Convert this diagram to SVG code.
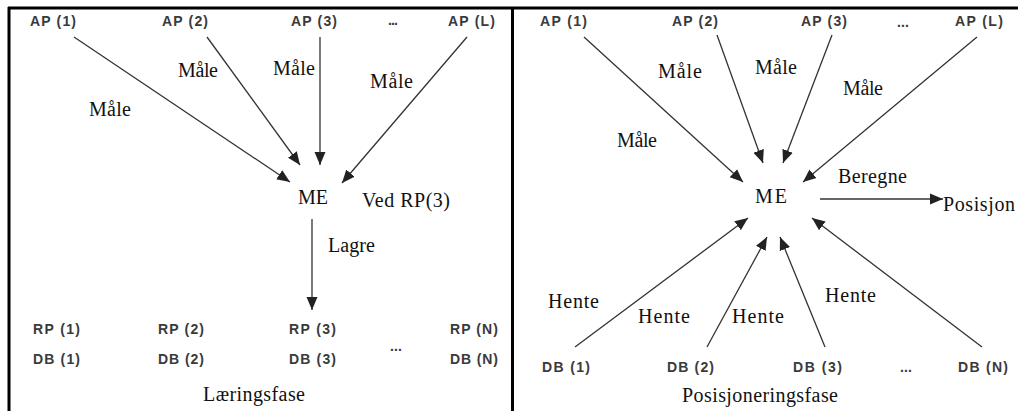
<svg xmlns="http://www.w3.org/2000/svg" width="1018" height="411" viewBox="0 0 1018 411">
<defs>
<marker id="ah" markerUnits="userSpaceOnUse" markerWidth="14" markerHeight="12" refX="13" refY="6" orient="auto">
<path d="M0,0.5 L13,6 L0,11.5 z" fill="#222"/>
</marker>
<style>
.f{stroke:#000;stroke-width:3;fill:none}
.c{stroke:#333;stroke-width:1.3;fill:none;marker-end:url(#ah)}
.s{font-family:"Liberation Sans",Arial,sans-serif;font-size:14px;fill:#3a3a3a;font-weight:bold}
.r{font-family:"Liberation Serif","Times New Roman",serif;font-size:20px;fill:#111}
</style>
</defs>
<rect width="1018" height="411" fill="#fff"/>
<g id="frame">
<line class="f" x1="8" y1="8" x2="1018" y2="8"/>
<line class="f" x1="9" y1="7" x2="9" y2="411"/>
<line class="f" x1="512.5" y1="7" x2="512.5" y2="411"/>
</g>
<g id="connectors">
<line class="c" x1="74" y1="37" x2="290" y2="182"/>
<line class="c" x1="207" y1="37" x2="300" y2="165"/>
<line class="c" x1="320" y1="37" x2="320" y2="165"/>
<line class="c" x1="467" y1="37" x2="342" y2="183"/>
<line class="c" x1="312" y1="219" x2="312" y2="310"/>
<line class="c" x1="584" y1="37" x2="743" y2="182"/>
<line class="c" x1="717" y1="35" x2="763" y2="163"/>
<line class="c" x1="832" y1="35" x2="783" y2="163"/>
<line class="c" x1="977" y1="37" x2="803" y2="182"/>
<line class="c" x1="820" y1="199" x2="943" y2="199"/>
<line class="c" x1="575" y1="347" x2="748" y2="218"/>
<line class="c" x1="707" y1="347" x2="767" y2="237"/>
<line class="c" x1="825" y1="347" x2="780" y2="237"/>
<line class="c" x1="982" y1="347" x2="812" y2="218"/>
</g>
<g id="labels-left">
<text class="r" x="89" y="116" textLength="42">Måle</text>
<text class="r" x="178" y="77" textLength="40">Måle</text>
<text class="r" x="273" y="75" textLength="42">Måle</text>
<text class="r" x="370" y="88" textLength="43">Måle</text>
<text class="r" x="328" y="252" textLength="47">Lagre</text>
<text class="r" x="362" y="207" textLength="88">Ved RP(3)</text>
<text class="r" x="203" y="401" textLength="102">Læringsfase</text>
</g>
<g id="labels-right">
<text class="r" x="617" y="147" textLength="40">Måle</text>
<text class="r" x="658" y="78" textLength="44">Måle</text>
<text class="r" x="755" y="74" textLength="42">Måle</text>
<text class="r" x="843" y="95" textLength="40">Måle</text>
<text class="r" x="838" y="183" textLength="69">Beregne</text>
<text class="r" x="548" y="308" textLength="51">Hente</text>
<text class="r" x="638" y="323" textLength="52">Hente</text>
<text class="r" x="732" y="323" textLength="52">Hente</text>
<text class="r" x="825" y="302" textLength="51">Hente</text>
<text class="r" x="682" y="402" textLength="156">Posisjoneringsfase</text>
</g>
<g id="ap-left">
<text class="s" x="30" y="26" textLength="46">AP (1)</text>
<text class="s" x="162" y="26" textLength="46">AP (2)</text>
<text class="s" x="291" y="26" textLength="46">AP (3)</text>
<text class="s" x="388" y="25" textLength="10">...</text>
<text class="s" x="448" y="26" textLength="47">AP (L)</text>
</g>
<g id="me-left"><text class="r" x="298" y="204" textLength="30">ME</text></g>
<g id="rp-db-left">
<text class="s" x="33" y="334" textLength="47">RP (1)</text>
<text class="s" x="158" y="334" textLength="46">RP (2)</text>
<text class="s" x="289" y="334" textLength="47">RP (3)</text>
<text class="s" x="450" y="334" textLength="48">RP (N)</text>
<text class="s" x="33" y="364" textLength="47">DB (1)</text>
<text class="s" x="158" y="364" textLength="46">DB (2)</text>
<text class="s" x="289" y="364" textLength="47">DB (3)</text>
<text class="s" x="390" y="351" textLength="12">...</text>
<text class="s" x="450" y="364" textLength="48">DB (N)</text>
</g>
<g id="ap-right">
<text class="s" x="540" y="26" textLength="47">AP (1)</text>
<text class="s" x="672" y="26" textLength="46">AP (2)</text>
<text class="s" x="801" y="26" textLength="46">AP (3)</text>
<text class="s" x="897" y="27" textLength="12">...</text>
<text class="s" x="955" y="26" textLength="48">AP (L)</text>
</g>
<g id="me-right"><text class="r" x="755" y="203" textLength="32">ME</text></g>
<g id="posisjon"><text class="r" x="943" y="211" textLength="72">Posisjon</text></g>
<g id="db-right">
<text class="s" x="542" y="372" textLength="48">DB (1)</text>
<text class="s" x="667" y="372" textLength="47">DB (2)</text>
<text class="s" x="793" y="372" textLength="49">DB (3)</text>
<text class="s" x="900" y="372" textLength="12">...</text>
<text class="s" x="958" y="372" textLength="50">DB (N)</text>
</g>
</svg>
